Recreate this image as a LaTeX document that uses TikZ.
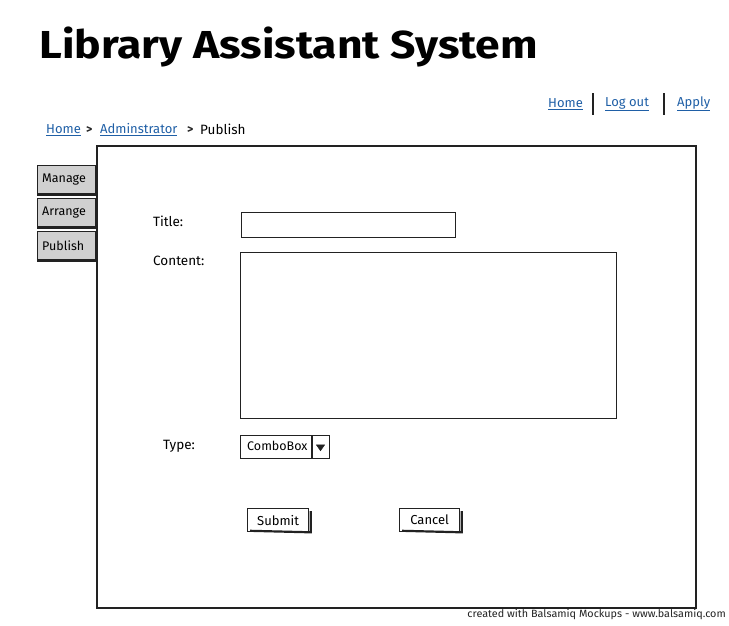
\documentclass[tikz,border=0pt]{standalone}
\usepackage{fontspec}
\setmainfont{Fira Sans}
\usetikzlibrary{shapes.geometric}
\definecolor{linkblue}{HTML}{1F5FA6}
\definecolor{tabgray}{HTML}{D0D0D0}
\definecolor{ink}{HTML}{222222}
\tikzset{
  frame/.style={draw=ink, line width=1.6pt},
  field/.style={draw=ink, line width=1.4pt, fill=white},
  tabbox/.style={draw=ink, line width=1.4pt, fill=tabgray, anchor=north west, minimum width=58pt, minimum height=28pt, inner sep=0pt},
  lbl/.style={font=\fontsize{13.5}{15}\selectfont, text=black, anchor=west, inner sep=0pt},
  tablbl/.style={font=\fontsize{12.5}{15}\selectfont, text=black, anchor=west, inner sep=0pt},
  link/.style={font=\fontsize{13}{15}\selectfont, text=linkblue, anchor=west, inner sep=0pt},
  btn/.style={draw=ink, line width=1.3pt, fill=white, minimum width=61pt, minimum height=23pt, inner sep=0pt, font=\fontsize{13}{15}\selectfont},
  shadowline/.style={draw=ink, line width=2.2pt},
  sep/.style={draw=ink, line width=1.4pt},
}
\begin{document}
\begin{tikzpicture}[x=1pt,y=-1pt]
\useasboundingbox (0,0) rectangle (729,625);
% title
\node[anchor=west, inner sep=0pt, font=\bfseries\fontsize{39}{44}\selectfont] (title) at (39,47) {\scalebox{1.14}[1]{Library Assistant System}};
% top links
\node[link] (lhome) at (548,104) {\underline{Home}};
\coordinate (s1a) at (593,93); \coordinate (s1b) at (593,115);
\draw[sep] (s1a) -- (s1b);
\node[link] (llogout) at (605,104) {\underline{Log out}};
\coordinate (s2a) at (664,93); \coordinate (s2b) at (664,115);
\draw[sep] (s2a) -- (s2b);
\node[link] (lapply) at (677,104) {\underline{Apply}};
% breadcrumb
\node[link] (bhome) at (46,130) {\underline{Home}};
\node[lbl, text=ink, font=\bfseries\fontsize{12}{14}\selectfont] (g1) at (86,130) {>};
\node[link] (badmin) at (100,130) {\underline{Adminstrator}};
\node[lbl, text=ink, font=\bfseries\fontsize{12}{14}\selectfont] (g2) at (187,130) {>};
\node[lbl] (bpub) at (200,129.5) {Publish};
% tabs
\node[tabbox] (tmanage) at (37,165) {};
\node[tablbl] at ([xshift=5pt]tmanage.west) {Manage};
\node[tabbox] (tarrange) at (37,198) {};
\node[tablbl] at ([xshift=5pt]tarrange.west) {Arrange};
\node[tabbox] (tpublish) at (37,231) {};
\node[tablbl] at ([xshift=5pt]tpublish.west) {Publish};
\draw[shadowline] (tmanage.south west) -- (tmanage.south east);
\draw[shadowline] (tarrange.south west) -- (tarrange.south east);
\draw[shadowline] (tpublish.south west) -- (tpublish.south east);
% main panel
\node[frame, fill=white, anchor=north west, minimum width=599pt, minimum height=462pt, inner sep=0pt] (panel) at (96,145) {};
% form
\node[lbl] (ltitle) at (153,221) {Title:};
\node[field, anchor=north west, minimum width=214pt, minimum height=25pt, inner sep=0pt] (ftitle) at (241,212) {};
\node[lbl] (lcontent) at (153,261) {Content:};
\node[field, anchor=north west, minimum width=376pt, minimum height=166pt, inner sep=0pt] (fcontent) at (240,252) {};
\node[lbl] (ltype) at (163,446) {Type:};
\node[field, anchor=north west, minimum width=89pt, minimum height=23pt, inner sep=0pt] (combo) at (240,435) {};
\node[lbl, font=\fontsize{12.5}{15}\selectfont] (combotext) at (247,445.5) {ComboBox};
\coordinate (cdiv1) at (312,435); \coordinate (cdiv2) at (312,458);
\draw[sep] (cdiv1) -- (cdiv2);
\node[isosceles triangle, shape border rotate=-90, fill=ink, draw=ink, inner sep=0pt, minimum width=8pt, minimum height=6pt, isosceles triangle apex angle=70] (carrow) at (320.5,447) {};
% buttons
\node[btn, anchor=north west] (submit) at (247,508) {Submit};
\draw[shadowline] ([xshift=1.5pt,yshift=-3pt]submit.north east) -- ([xshift=1.5pt]submit.south east) -- ([xshift=3pt,yshift=1.5pt]submit.south west);
\node[btn, anchor=north west, minimum width=60pt] (cancel) at (399,508) {Cancel};
\draw[shadowline] ([xshift=1.5pt,yshift=-3pt]cancel.north east) -- ([xshift=1.5pt]cancel.south east) -- ([xshift=3pt,yshift=1.5pt]cancel.south west);
% footer
\node[anchor=east, inner sep=0pt, text=ink, font=\fontsize{10.5}{12}\selectfont] (footer) at (726,615) {\scalebox{1.03}[1]{created with Balsamiq Mockups - www.balsamiq.com}};
\end{tikzpicture}
\end{document}
